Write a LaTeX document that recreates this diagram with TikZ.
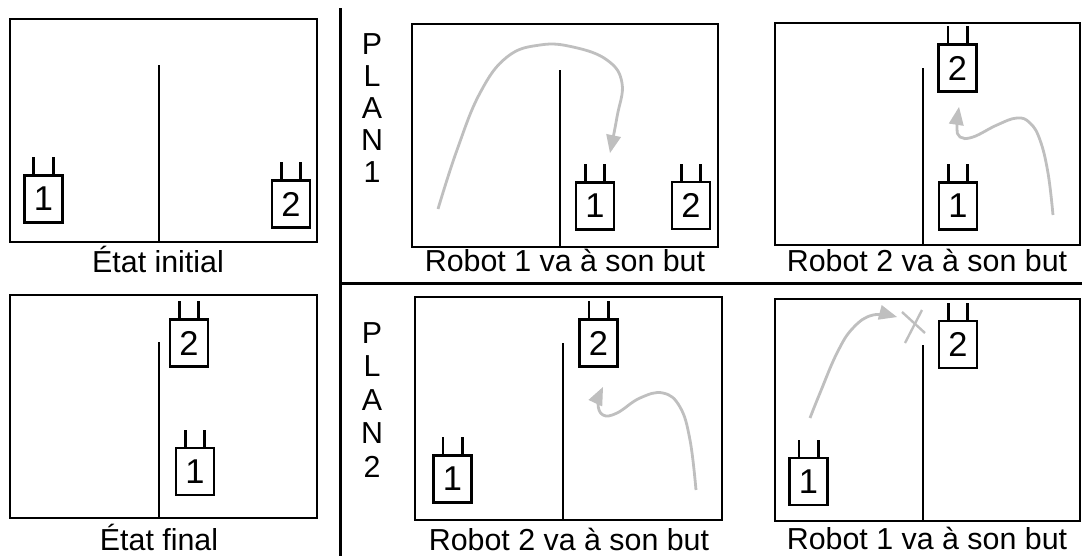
\documentclass[tikz,border=0pt]{standalone}
\usepackage{fontspec}
\setmainfont{Liberation Sans}
\usepackage{tikz}
\usetikzlibrary{arrows}

\tikzset{
robotbody/.style={draw, line width=0.7mm, minimum width=9.5mm, minimum height=11.75mm, inner sep=0pt, font=\fontsize{24.5pt}{28pt}\selectfont},
robotline/.style={line width=0.7mm},
room/.style={line width=0.4mm},
wall/.style={line width=0.4mm},
pathline/.style={->, gray!50, line width=0.7mm},
label/.style={anchor=base}
}
% robot: name, x, y, number
\newcommand{\robot}[4]{
\node[robotbody] (#1) at (#2,#3) {#4};
\draw[robotline] ([xshift=-2.4mm]#1.north) -- ++(0,4.25mm);
\draw[robotline] ([xshift=2.4mm]#1.north) -- ++(0,4.25mm);
}

\begin{document}
\begin{tikzpicture}[line cap=butt,line join=miter,>=triangle 45,x=0.25mm,
y=-0.25mm,font=\fontsize{21.6pt}{26pt}\selectfont]
\useasboundingbox (0,0) rectangle (1082,556);
% Séparateurs
\draw[line width=0.75mm] (340,8) -- (340,556);
\draw[line width=0.75mm] (340,283) -- (1082,283);

% État initial
\draw[room] (10,19) rectangle (317,242);
\draw[wall] (159,65) -- (159,242);
\robot{initA}{43.5}{199}{1}
\robot{initB}{291}{204}{2}
\node[label] (lblInit) at (158,272) {État initial};

% État final
\draw[room] (10,295) rectangle (317,518);
\draw[wall] (159,342) -- (159,518);
\robot{finB}{189}{343}{2}
\robot{finA}{195}{471.5}{1}
\node[label] (lblFin) at (159,550) {État final};

% Plan 1
\foreach \c [count=\i] in {P,L,A,N,1}
\node[label] (planA\i) at (372,{54+32*(\i-1)}) {\c};

\draw[room] (412,24) rectangle (718,247);
\draw[wall] (560,70) -- (560,247);
\robot{pAa}{595}{206}{1}
\robot{pAb}{691}{205.5}{2}
\draw[pathline] plot[smooth, tension=0.7] coordinates {(438,209) (457,150) (480,93) (507,57) (540,45) (573,47) (607,60) (622,83) (617,117) (610,153)};
\node[label] (lblPAa) at (565,271) {Robot 1 va à son but};

\draw[room] (775,23) rectangle (1080,245);
\draw[wall] (923,68) -- (923,245);
\robot{pBb}{957.5}{68}{2}
\robot{pBa}{958}{206}{1}
\draw[pathline] plot[smooth, tension=0.7] coordinates {(1053,215) (1048,173) (1040,140) (1030,123) (1017,118) (997,125) (973,137) (960,137) (957,127) (959,107)};
\node[label] (lblPAb) at (927,271) {Robot 2 va à son but};

% Plan 2
\foreach \c [count=\i] in {P,L,A,N,2}
\node[label] (planB\i) at (372,{343+33.5*(\i-1)}) {\c};

\draw[room] (415,297) rectangle (722,520);
\draw[wall] (563,343) -- (563,520);
\robot{qAb}{598.5}{343}{2}
\robot{qAa}{452.5}{479}{1}
\draw[pathline] plot[smooth, tension=0.7] coordinates {(696,490) (690,440) (680,407) (663,393) (640,398) (617,413) (603,415) (598,403) (603,387)};
\node[label] (lblPBa) at (569,550) {Robot 2 va à son but};

\draw[room] (775,299) rectangle (1080,521);
\draw[wall] (923,345) -- (923,521);
\robot{qBa}{808.5}{481.5}{1}
\robot{qBb}{958}{344.5}{2}
\draw[pathline] plot[smooth, tension=0.7] coordinates {(810,418) (820,393) (837,353) (853,328) (873,315) (897,317)};
% collision
\draw[gray!50, line width=0.6mm] (902,312) -- (925,333);
\draw[gray!50, line width=0.6mm] (922,310) -- (905,343);
\node[label] (lblPBb) at (927,549) {Robot 1 va à son but};

\end{tikzpicture}
\end{document}
